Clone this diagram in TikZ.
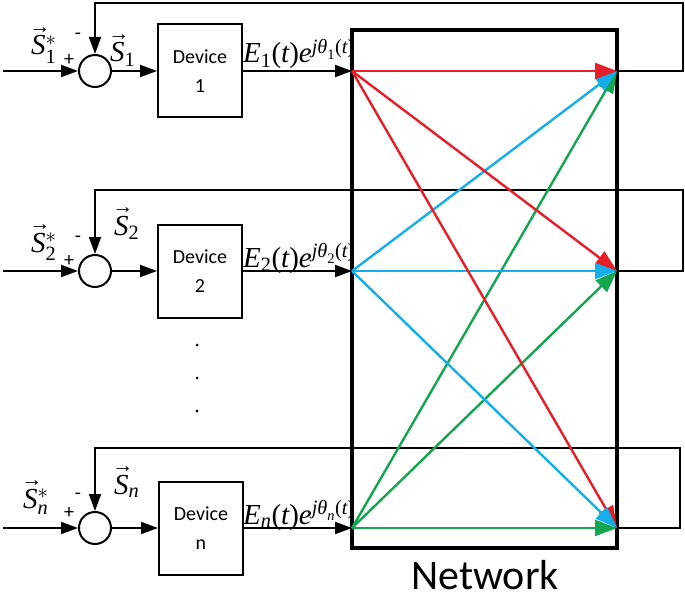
\documentclass[tikz,border=0pt]{standalone}
\usepackage{amsmath}
\usepackage{fontspec}
\usetikzlibrary{arrows.meta}
\newfontfamily\calib{Carlito}
\newfontfamily\tnr{Liberation Serif}
\newcommand{\ti}[1]{\text{\tnr\itshape #1}}
\newcommand{\tu}[1]{\text{\tnr #1}}
\newcommand{\varr}[1]{\overset{\raisebox{-3pt}{\makebox[0pt]{\hspace{3pt}\tnr\fontsize{21}{21}\selectfont →}}}{\ti{#1}}}
\definecolor{fred}{RGB}{230,30,40}
\definecolor{fcyan}{RGB}{20,175,235}
\definecolor{fgreen}{RGB}{20,165,80}
\begin{document}
\begin{tikzpicture}[x=1pt,y=-1pt,
 conn/.style={line width=2pt,-{Triangle[length=17pt,width=12pt]}},
 fb/.style={line width=1.7pt},
 sumc/.style={circle,draw,line width=2pt,minimum size=32pt,inner sep=0pt},
 dev/.style={draw,line width=2pt,minimum width=84pt,minimum height=93pt,align=center,font=\calib\fontsize{20}{29}\selectfont},
 lab/.style={inner sep=0pt,anchor=base west,font=\fontsize{29}{34}\selectfont},
 pm/.style={font=\calib\fontsize{20}{24}\selectfont,inner sep=0pt},
 flow/.style={line width=2.4pt,-{Triangle[length=22pt,width=16pt]}},
 dot/.style={circle,fill,inner sep=0pt,minimum size=3pt}
]
\useasboundingbox (0,0) rectangle (685,596);

% row 1
\coordinate (i1) at (3,71);
\node[sumc] (c1) at (95,71) {};
\node[dev] (d1) at (200,71) {Device\\1};
\coordinate (s1) at (352,71);
\coordinate (t1) at (617,71);
\coordinate (f1) at (683,3);
% row 2
\coordinate (i2) at (3,271);
\node[sumc] (c2) at (95,271) {};
\node[dev] (d2) at (200,271) {Device\\2};
\coordinate (s2) at (352,271);
\coordinate (t2) at (617,271);
\coordinate (f2) at (683,190);
% row n
\coordinate (in) at (3,528);
\node[sumc] (cn) at (95,528) {};
\node[dev] (dn) at (201,528) {Device\\n};
\coordinate (sn) at (352,528);
\coordinate (tn) at (617,528);
\coordinate (fn) at (680,448);

% labels
\node[lab] (l1a) at (31,55) {$\varr{S}{}^{*}_{\tu{1}}$};
\node[pm] (p1) at (69,60) {+};
\node[pm] (m1) at (78,36) {-};
\node[lab] (l1b) at (110,62) {$\varr{S}_{\tu{1}}$};
\node[lab] (e1) at (243,63) {$\ti{E}_{\tu{1}}\tu{(}\ti{t}\tu{)}\ti{e}^{\ti{jθ}_{\tu{1}}\tu{(}\ti{t}\tu{)}}$};

\node[lab] (l2a) at (31,252) {$\varr{S}{}^{*}_{\tu{2}}$};
\node[pm] (p2) at (69,261) {+};
\node[pm] (m2) at (78,239) {-};
\node[lab] (l2b) at (114,235) {$\varr{S}_{\tu{2}}$};
\node[lab] (e2) at (243,267) {$\ti{E}_{\tu{2}}\tu{(}\ti{t}\tu{)}\ti{e}^{\ti{jθ}_{\tu{2}}\tu{(}\ti{t}\tu{)}}$};

\node[lab] (lna) at (23,508) {$\varr{S}{}^{*}_{\ti{n}}$};
\node[pm] (pn) at (69,513) {+};
\node[pm] (mn) at (78,496) {-};
\node[lab] (lnb) at (114,494) {$\varr{S}_{\ti{n}}$};
\node[lab] (en) at (243,524) {$\ti{E}_{\ti{n}}\tu{(}\ti{t}\tu{)}\ti{e}^{\ti{jθ}_{\ti{n}}\tu{(}\ti{t}\tu{)}}$};

% dots
\node[dot] (v1) at (197,345) {};
\node[dot] (v2) at (197,378) {};
\node[dot] (v3) at (197,411) {};

% forward paths
\foreach \r in {1,2,n}{
  \draw[conn] (i\r) -- (c\r.west);
  \draw[conn] (c\r.east) -- (d\r.west);
  \draw[conn] (d\r.east) -- (s\r);
  \draw[fb,-{Triangle[length=17pt,width=12pt]}] (t\r) -- (t\r -| f\r) -- (f\r) -- (f\r -| c\r) -- (c\r.north);
}

% network box
\node[draw,line width=4.5pt,minimum width=265pt,minimum height=518pt,inner sep=0pt] (net) at (484.5,289) {};
\node[font=\calib\fontsize{42}{50}\selectfont,anchor=base] (nl) at (485,589) {Network};

% flows
\draw[flow,fgreen] (sn) -- (t1);
\draw[flow,fcyan] (s2) -- (t1);
\draw[flow,fred] (s1) -- (t1);
\draw[flow,fred] (s1) -- (t2);
\draw[flow,fgreen] (sn) -- (t2);
\draw[flow,fcyan] (s2) -- (t2);
\draw[flow,fred] (s1) -- (tn);
\draw[flow,fcyan] (s2) -- (tn);
\draw[flow,fgreen] (sn) -- (tn);
\end{tikzpicture}
\end{document}
